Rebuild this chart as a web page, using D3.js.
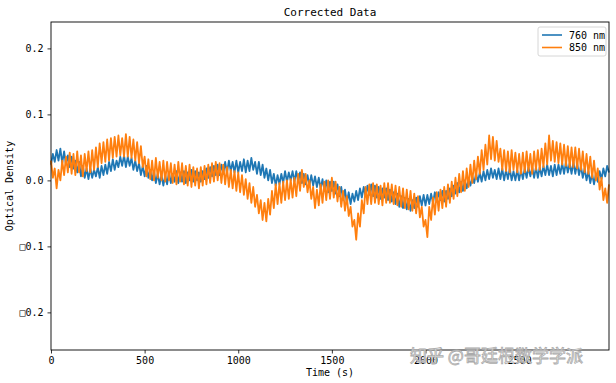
<!DOCTYPE html>
<html><head><meta charset="utf-8">
<script src="https://cdn.jsdelivr.net/npm/d3@7"></script>
<style>body{margin:0;background:#fff}svg{display:block}text{font-family:"DejaVu Sans Mono","Liberation Mono",monospace}</style>
</head><body><svg id="c" width="616" height="383"></svg>
<script>
const timeStep = 10; // seconds between samples
const seriesNames = ["760 nm", "850 nm"];
const xTicks = [0, 500, 1000, 1500, 2000, 2500];
const yTicks = [0.2, 0.1, 0.0, -0.1, -0.2];
const yTickLabels = ["0.2", "0.1", "0.0", "\u25A10.1", "\u25A10.2"];
const od760 = [
 0.024,0.040,0.028,0.046,0.030,0.048,0.026,0.044,0.024,0.038,
 0.020,0.036,0.018,0.030,0.012,0.028,0.006,0.022,0.004,0.018,
 0.002,0.018,0.004,0.016,0.006,0.020,0.004,0.022,0.008,0.024,
 0.010,0.028,0.014,0.032,0.016,0.030,0.020,0.036,0.022,0.038,
 0.020,0.036,0.022,0.034,0.016,0.030,0.014,0.026,0.008,0.022,
 0.006,0.022,0.004,0.016,0.000,0.014,-0.004,0.010,-0.006,0.008,
 -0.008,0.008,-0.006,0.012,-0.004,0.010,-0.002,0.014,-0.004,0.012,
 -0.002,0.014,-0.004,0.012,0.000,0.016,-0.002,0.014,0.000,0.012,
 -0.002,0.014,0.002,0.018,0.004,0.020,0.006,0.022,0.008,0.024,
 0.008,0.024,0.010,0.028,0.012,0.030,0.014,0.028,0.012,0.030,
 0.012,0.028,0.014,0.032,0.012,0.030,0.014,0.034,0.016,0.028,
 0.010,0.028,0.008,0.024,0.004,0.018,0.000,0.016,-0.004,0.010,
 -0.008,0.008,-0.006,0.010,-0.004,0.014,-0.002,0.012,0.000,0.014,
 -0.002,0.014,-0.002,0.012,-0.004,0.010,-0.006,0.008,-0.008,0.008,
 -0.008,0.006,-0.010,0.004,-0.012,0.002,-0.016,0.000,-0.018,-0.002,
 -0.016,-0.002,-0.020,-0.006,-0.024,-0.010,-0.030,-0.014,-0.034,-0.018,
 -0.036,-0.020,-0.032,-0.016,-0.030,-0.012,-0.026,-0.010,-0.024,-0.008,
 -0.022,-0.006,-0.024,-0.008,-0.026,-0.010,-0.028,-0.012,-0.026,-0.012,
 -0.030,-0.014,-0.032,-0.018,-0.036,-0.020,-0.040,-0.024,-0.042,-0.026,
 -0.044,-0.028,-0.046,-0.030,-0.042,-0.026,-0.040,-0.024,-0.038,-0.022,
 -0.038,-0.022,-0.036,-0.020,-0.034,-0.018,-0.032,-0.018,-0.030,-0.016,
 -0.032,-0.016,-0.028,-0.012,-0.024,-0.008,-0.020,-0.004,-0.018,-0.002,
 -0.016,0.000,-0.012,0.002,-0.008,0.006,-0.004,0.010,-0.002,0.012,
 -0.002,0.014,0.000,0.016,0.002,0.018,0.004,0.016,0.002,0.018,
 0.002,0.018,0.000,0.016,0.002,0.018,0.000,0.014,0.000,0.016,
 0.000,0.016,0.002,0.018,0.004,0.020,0.006,0.020,0.004,0.020,
 0.004,0.020,0.006,0.022,0.008,0.024,0.008,0.022,0.006,0.024,
 0.008,0.024,0.010,0.026,0.010,0.028,0.012,0.026,0.010,0.028,
 0.010,0.026,0.008,0.022,0.004,0.018,0.000,0.014,-0.004,0.010,
 -0.006,0.010,-0.002,0.014,0.002,0.018,0.006,0.022,0.012
];
const od850 = [
 0.030,0.004,0.018,-0.012,0.016,0.000,0.030,0.008,0.036,0.012,
 0.042,0.010,0.040,0.008,0.044,0.012,0.038,0.006,0.040,0.014,
 0.044,0.012,0.046,0.016,0.050,0.020,0.056,0.026,0.058,0.028,
 0.062,0.030,0.064,0.034,0.066,0.036,0.068,0.038,0.064,0.036,
 0.070,0.036,0.066,0.034,0.062,0.030,0.058,0.026,0.052,0.020,
 0.036,0.006,0.032,0.002,0.030,0.000,0.034,0.004,0.028,0.000,
 0.030,-0.002,0.028,0.000,0.026,-0.004,0.024,-0.006,0.028,-0.002,
 0.026,-0.006,0.022,-0.008,0.024,-0.010,0.020,-0.008,0.018,-0.012,
 0.020,-0.008,0.022,-0.006,0.024,-0.004,0.026,-0.002,0.028,0.000,
 0.026,-0.004,0.024,-0.006,0.020,-0.010,0.016,-0.012,0.014,-0.016,
 0.012,-0.018,0.008,-0.022,0.002,-0.028,-0.004,-0.034,-0.010,-0.040,
 -0.022,-0.050,-0.030,-0.060,-0.034,-0.062,-0.028,-0.052,-0.016,-0.042,
 -0.006,-0.036,-0.004,-0.034,-0.002,-0.030,0.000,-0.028,0.002,-0.026,
 0.004,-0.024,0.010,-0.016,0.016,-0.010,0.010,-0.018,0.000,-0.028,
 -0.010,-0.042,-0.014,-0.038,-0.006,-0.034,-0.002,-0.030,0.000,-0.028,
 0.004,-0.026,-0.002,-0.032,-0.010,-0.040,-0.016,-0.046,-0.024,-0.054,
 -0.040,-0.070,-0.060,-0.090,-0.050,-0.070,-0.030,-0.050,-0.010,-0.036,
 -0.006,-0.036,-0.004,-0.034,-0.006,-0.036,-0.008,-0.038,-0.004,-0.034,
 -0.004,-0.034,-0.006,-0.036,-0.008,-0.038,-0.010,-0.040,-0.012,-0.042,
 -0.014,-0.044,-0.016,-0.046,-0.020,-0.050,-0.024,-0.056,-0.040,-0.070,
 -0.060,-0.086,-0.040,-0.060,-0.026,-0.052,-0.018,-0.046,-0.014,-0.042,
 -0.010,-0.040,-0.006,-0.034,-0.002,-0.028,0.004,-0.024,0.010,-0.018,
 0.014,-0.016,0.018,-0.010,0.024,-0.004,0.030,0.002,0.036,0.010,
 0.046,0.016,0.054,0.024,0.068,0.032,0.066,0.030,0.060,0.028,
 0.048,0.016,0.046,0.014,0.044,0.012,0.046,0.016,0.042,0.012,
 0.040,0.010,0.042,0.012,0.044,0.014,0.040,0.010,0.044,0.016,
 0.046,0.016,0.048,0.020,0.056,0.024,0.068,0.030,0.060,0.028,
 0.058,0.026,0.056,0.024,0.054,0.022,0.052,0.020,0.050,0.020,
 0.050,0.018,0.048,0.016,0.044,0.012,0.040,0.010,0.036,0.004,
 0.030,0.000,0.018,-0.014,0.004,-0.030,-0.012,-0.034,-0.006
];
const colors = ["#1f77b4", "#ff7f0e"];

const svg = d3.select("#c");
const W = 616, H = 383;
const m = {l:51, r:W-609, t:22, b:H-350};
const x = d3.scaleLinear().domain([0, 2980]).range([m.l, W - m.r]);
const y = d3.scaleLinear().domain([-0.257, 0.24]).range([H - m.b, m.t]);

const line = d3.line().x((d,i)=>x(i*timeStep)).y(d=>y(d));
[od760, od850].forEach((s,k)=>{
  svg.append("path").datum(s).attr("d", line).attr("fill","none")
    .attr("stroke", colors[k]).attr("stroke-width", 1.8).attr("stroke-linejoin","round");
});

// frame
svg.append("rect").attr("x", m.l).attr("y", m.t).attr("width", W-m.r-m.l).attr("height", H-m.b-m.t)
  .attr("fill","none").attr("stroke","#000").attr("stroke-width",0.9);

const xa = svg.append("g").attr("transform",`translate(0,${H-m.b})`)
  .call(d3.axisBottom(x).tickValues(xTicks).tickSize(3.5).tickPadding(3).tickFormat(d3.format("d")));
const ya = svg.append("g").attr("transform",`translate(${m.l},0)`)
  .call(d3.axisLeft(y).tickValues(yTicks).tickSize(3.5).tickPadding(4).tickFormat((d,i)=>yTickLabels[i]));
[xa,ya].forEach(a=>{
  a.select(".domain").remove();
  a.selectAll("line").attr("stroke","#000").attr("stroke-width",0.8);
  a.selectAll("text").attr("fill","#000").style("font-size","10px");
});

svg.append("text").attr("x",(m.l+W-m.r)/2).attr("y",16).attr("text-anchor","middle")
  .style("font-size","11px").text("Corrected Data");
svg.append("text").attr("x",(m.l+W-m.r)/2).attr("y",376).attr("text-anchor","middle")
  .style("font-size","10px").text("Time (s)");
svg.append("text").attr("transform",`translate(13,${(m.t+H-m.b)/2}) rotate(-90)`).attr("text-anchor","middle")
  .style("font-size","10px").text("Optical Density");

// legend
const lg = svg.append("g").attr("transform","translate(538,27)");
lg.append("rect").attr("width",68).attr("height",29).attr("rx",2).attr("fill","#fff")
  .attr("fill-opacity",0.8).attr("stroke","#ccc").attr("stroke-width",0.8);
seriesNames.forEach((n,k)=>{
  lg.append("line").attr("x1",4).attr("x2",24).attr("y1",8+k*12.5).attr("y2",8+k*12.5)
    .attr("stroke",colors[k]).attr("stroke-width",1.6);
  lg.append("text").attr("x",31).attr("y",11.5+k*12.5).style("font-size","10px").text(n);
});

// watermark (present in the reference image)
svg.append("text").attr("x",410).attr("y",362).style("font-family","'Noto Sans CJK SC'")
  .style("font-size","17px").attr("fill","#fff").attr("fill-opacity",0.85)
  .attr("stroke","#aaa").attr("stroke-width",0.8).text("知乎 @哥廷根数学学派");
</script></body></html>
